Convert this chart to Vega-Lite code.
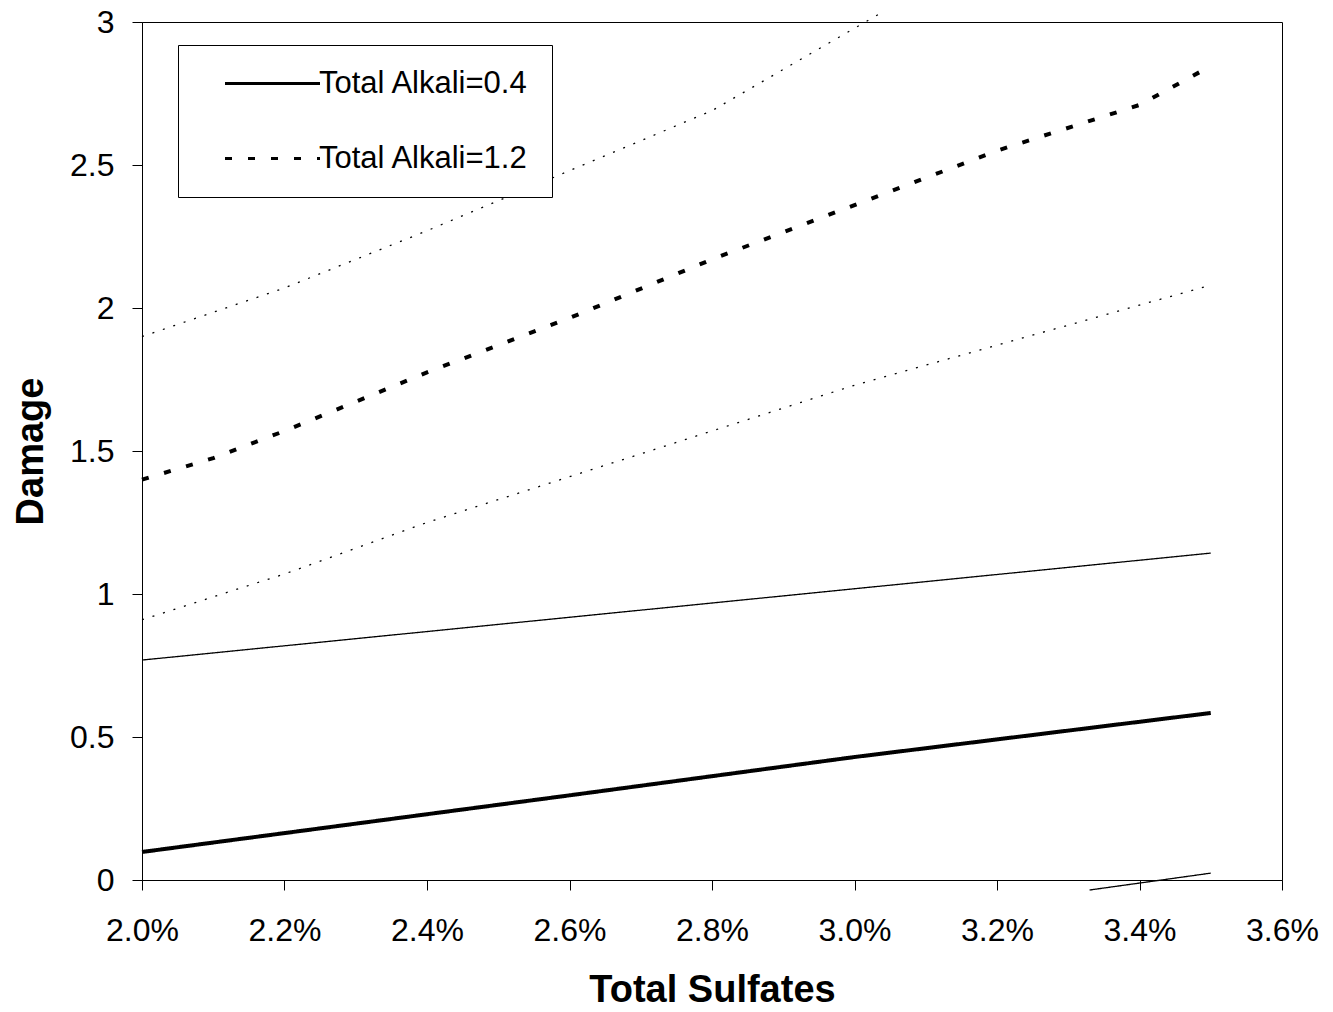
{
  "$schema": "https://vega.github.io/schema/vega-lite/v6.json",
  "width": 1140,
  "height": 858,
  "autosize": "none",
  "padding": {"left": 142, "top": 22, "right": 51, "bottom": 132},
  "background": "white",
  "config": {
    "view": {"stroke": "black", "strokeWidth": 1},
    "font": "Liberation Sans"
  },
  "datasets": {
    "curves": [
      {"sulfate": 0.020, "damage": 0.098, "series": "Total Alkali=0.4", "band": "mean"},
      {"sulfate": 0.026, "damage": 0.296, "series": "Total Alkali=0.4", "band": "mean"},
      {"sulfate": 0.030, "damage": 0.43, "series": "Total Alkali=0.4", "band": "mean"},
      {"sulfate": 0.035, "damage": 0.584, "series": "Total Alkali=0.4", "band": "mean"},
      {"sulfate": 0.020, "damage": 0.769, "series": "Total Alkali=0.4", "band": "upper"},
      {"sulfate": 0.035, "damage": 1.143, "series": "Total Alkali=0.4", "band": "upper"},
      {"sulfate": 0.0333, "damage": -0.035, "series": "Total Alkali=0.4", "band": "lower"},
      {"sulfate": 0.035, "damage": 0.024, "series": "Total Alkali=0.4", "band": "lower"},
      {"sulfate": 0.020, "damage": 1.40, "series": "Total Alkali=1.2", "band": "mean"},
      {"sulfate": 0.021, "damage": 1.475, "series": "Total Alkali=1.2", "band": "mean"},
      {"sulfate": 0.022, "damage": 1.57, "series": "Total Alkali=1.2", "band": "mean"},
      {"sulfate": 0.024, "damage": 1.775, "series": "Total Alkali=1.2", "band": "mean"},
      {"sulfate": 0.026, "damage": 1.965, "series": "Total Alkali=1.2", "band": "mean"},
      {"sulfate": 0.028, "damage": 2.17, "series": "Total Alkali=1.2", "band": "mean"},
      {"sulfate": 0.030, "damage": 2.36, "series": "Total Alkali=1.2", "band": "mean"},
      {"sulfate": 0.032, "damage": 2.55, "series": "Total Alkali=1.2", "band": "mean"},
      {"sulfate": 0.034, "damage": 2.71, "series": "Total Alkali=1.2", "band": "mean"},
      {"sulfate": 0.035, "damage": 2.846, "series": "Total Alkali=1.2", "band": "mean"},
      {"sulfate": 0.020, "damage": 0.91, "series": "Total Alkali=1.2", "band": "lower"},
      {"sulfate": 0.022, "damage": 1.07, "series": "Total Alkali=1.2", "band": "lower"},
      {"sulfate": 0.024, "damage": 1.25, "series": "Total Alkali=1.2", "band": "lower"},
      {"sulfate": 0.026, "damage": 1.41, "series": "Total Alkali=1.2", "band": "lower"},
      {"sulfate": 0.028, "damage": 1.57, "series": "Total Alkali=1.2", "band": "lower"},
      {"sulfate": 0.030, "damage": 1.73, "series": "Total Alkali=1.2", "band": "lower"},
      {"sulfate": 0.032, "damage": 1.87, "series": "Total Alkali=1.2", "band": "lower"},
      {"sulfate": 0.034, "damage": 2.01, "series": "Total Alkali=1.2", "band": "lower"},
      {"sulfate": 0.035, "damage": 2.08, "series": "Total Alkali=1.2", "band": "lower"},
      {"sulfate": 0.020, "damage": 1.90, "series": "Total Alkali=1.2", "band": "upper"},
      {"sulfate": 0.022, "damage": 2.07, "series": "Total Alkali=1.2", "band": "upper"},
      {"sulfate": 0.024, "damage": 2.27, "series": "Total Alkali=1.2", "band": "upper"},
      {"sulfate": 0.026, "damage": 2.48, "series": "Total Alkali=1.2", "band": "upper"},
      {"sulfate": 0.028, "damage": 2.69, "series": "Total Alkali=1.2", "band": "upper"},
      {"sulfate": 0.03036, "damage": 3.03, "series": "Total Alkali=1.2", "band": "upper"}
    ]
  },
  "data": {"name": "curves"},
  "encoding": {
    "x": {
      "field": "sulfate", "type": "quantitative",
      "scale": {"domain": [0.02, 0.036], "nice": false, "zero": false},
      "axis": {
        "title": "Total Sulfates", "format": ".1%", "values": [0.02, 0.022, 0.024, 0.026, 0.028, 0.03, 0.032, 0.034, 0.036],
        "grid": false, "domainColor": "black", "tickColor": "black", "tickSize": 10, "labelFlush": false,
        "labelFontSize": 32, "labelColor": "black", "labelPadding": 25,
        "titleFontSize": 38, "titleFontWeight": "bold", "titleColor": "black", "titlePadding": 25
      }
    },
    "y": {
      "field": "damage", "type": "quantitative",
      "scale": {"domain": [0, 3], "nice": false, "zero": false},
      "axis": {
        "title": "Damage", "format": "~g", "values": [0, 0.5, 1, 1.5, 2, 2.5, 3],
        "grid": false, "domainColor": "black", "tickColor": "black", "tickSize": 10, "labelFlush": false,
        "labelFontSize": 32, "labelColor": "black", "labelPadding": 18,
        "titleFontSize": 38, "titleFontWeight": "bold", "titleColor": "black", "titlePadding": 19
      }
    }
  },
  "layer": [
    {
      "transform": [{"filter": "datum.band !== 'mean'"}],
      "mark": {"type": "line", "color": "black", "strokeWidth": 1.3, "clip": false},
      "encoding": {
        "detail": {"field": "band"},
        "strokeDash": {
          "field": "series", "type": "nominal",
          "scale": {"domain": ["Total Alkali=0.4", "Total Alkali=1.2"], "range": [[1, 0], [2, 9]]},
          "legend": null
        }
      }
    },
    {
      "transform": [{"filter": "datum.band === 'mean'"}],
      "mark": {"type": "line", "color": "black", "strokeWidth": 4, "clip": false},
      "encoding": {
        "strokeDash": {
          "field": "series", "type": "nominal",
          "scale": {"domain": ["Total Alkali=0.4", "Total Alkali=1.2"], "range": [[1, 0], [7, 16]]},
          "legend": {
            "title": null, "orient": "none", "legendX": 36, "legendY": 23,
            "strokeColor": "black", "fillColor": "white", "padding": 23,
            "symbolType": "M-5,0H5", "symbolSize": 361, "symbolStrokeWidth": 3, "symbolStrokeColor": "black",
            "symbolOffset": 56,
            "labelFontSize": 31, "labelColor": "black", "labelOffset": 31, "labelLimit": 0, "rowPadding": 43
          }
        }
      }
    }
  ],
  "resolve": {"scale": {"strokeDash": "independent"}}
}
